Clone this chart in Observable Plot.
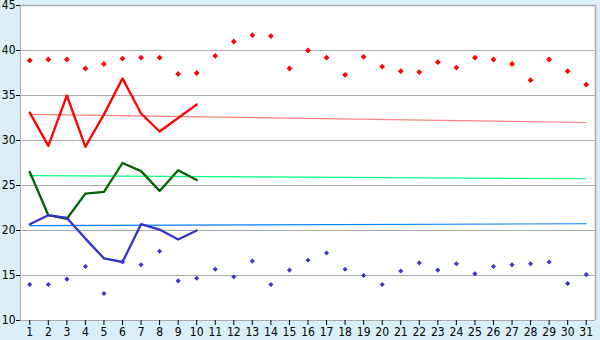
<!DOCTYPE html>
<html>
<head>
<meta charset="utf-8">
<script src="https://cdn.jsdelivr.net/npm/d3@7"></script>
<script src="https://cdn.jsdelivr.net/npm/@observablehq/plot@0.6"></script>
<style>
  html, body { margin: 0; padding: 0; background: #d9eef6; }
  #chart svg { display: block; }
</style>
</head>
<body>
<div id="chart"></div>
<script>
const days = d3.range(1, 32);
// Record highs (red diamonds)
const recordHigh = [38.9, 39.0, 39.0, 38.0, 38.5, 39.1, 39.2, 39.2, 37.4, 37.5,
  39.4, 41.0, 41.7, 41.6, 38.0, 40.0, 39.2, 37.3, 39.3, 38.2,
  37.7, 37.6, 38.7, 38.1, 39.2, 39.0, 38.5, 36.7, 39.0, 37.7, 36.2];
// Record lows (blue diamonds)
const recordLow = [14.0, 14.0, 14.6, 16.0, 13.0, 16.5, 16.2, 17.7, 14.4, 14.7,
  15.7, 14.85, 16.6, 14.0, 15.6, 16.7, 17.5, 15.7, 15.0, 14.0,
  15.5, 16.4, 15.6, 16.3, 15.2, 16.0, 16.2, 16.3, 16.5, 14.1, 15.1];
// Observed values, days 1-10
const obsDays = [1, 2, 3, 4, 5, 6, 7, 8, 9, 10];
const obsMax = [33.1, 29.4, 35.0, 29.3, 32.9, 36.9, 33.0, 31.0, 32.5, 34.0];
const obsMean = [26.5, 21.7, 21.3, 24.1, 24.3, 27.5, 26.6, 24.4, 26.7, 25.6];
const obsMin = [20.7, 21.7, 21.4, 19.1, 16.9, 16.5, 20.7, 20.1, 19.0, 20.0];
// Normal values (start and end of month)
const normDays = [1, 31];
const normMax = [32.9, 32.0];
const normMean = [26.1, 25.75];
const normMin = [20.55, 20.75];
const yTicks = [10, 15, 20, 25, 30, 35, 40, 45];

const hi = days.map((d, i) => ({day: d, v: recordHigh[i]}));
const lo = days.map((d, i) => ({day: d, v: recordLow[i]}));
const obs = (arr) => obsDays.map((d, i) => ({day: d, v: arr[i]}));
const norm = (arr) => normDays.map((d, i) => ({day: d, v: arr[i]}));

const chart = Plot.plot({
  width: 600,
  height: 340,
  marginLeft: 20,
  marginRight: 5,
  marginTop: 5,
  marginBottom: 20,
  style: {background: "#d9eef6", fontFamily: "'Liberation Sans Narrow', 'DejaVu Sans Condensed', sans-serif", fontSize: "12px", color: "#000"},
  x: {domain: [0.5, 31.5], ticks: days, tickFormat: d => String(d), tickSize: 5, tickPadding: 2, label: null},
  y: {domain: [10, 45], ticks: yTicks, tickSize: 4, tickPadding: 1, label: null},
  marks: [
    Plot.frame({fill: "white", stroke: "none"}),
    Plot.gridY(yTicks, {stroke: "#aaaaaa", strokeOpacity: 1, strokeWidth: 1}),
    Plot.ruleX([31.5], {stroke: "#aaaaaa", strokeWidth: 1.5}),
    Plot.ruleY([45], {stroke: "#aaaaaa", strokeWidth: 1.5}),
    Plot.ruleX([0.5], {stroke: "#aaaaaa", strokeWidth: 1}),
    Plot.line(norm(normMax), {x: "day", y: "v", stroke: "#ff8080", strokeWidth: 1.2}),
    Plot.line(norm(normMean), {x: "day", y: "v", stroke: "#00ff80", strokeWidth: 1.2}),
    Plot.line(norm(normMin), {x: "day", y: "v", stroke: "#0080ff", strokeWidth: 1.2}),
    Plot.line(obs(obsMax), {x: "day", y: "v", stroke: "#ff0000", strokeWidth: 2.3}),
    Plot.line(obs(obsMean), {x: "day", y: "v", stroke: "#006400", strokeWidth: 2.3}),
    Plot.line(obs(obsMin), {x: "day", y: "v", stroke: "#3333cc", strokeWidth: 2.3}),
    Plot.dot(hi, {x: "day", y: "v", symbol: "diamond2", r: 2.6, fill: "#ff0000", stroke: "none"}),
    Plot.dot(lo, {x: "day", y: "v", symbol: "diamond2", r: 2.3, fill: "#3838cc", stroke: "none"}),
    Plot.axisX({ticks: days, tickFormat: d => String(d), tickSize: 5, tickPadding: 2, stroke: "#000", fill: "#000"}),
    Plot.axisY({ticks: yTicks, tickSize: 4, tickPadding: 1, stroke: "#000", fill: "#000"})
  ]
});
document.getElementById("chart").appendChild(chart);
</script>
</body>
</html>
